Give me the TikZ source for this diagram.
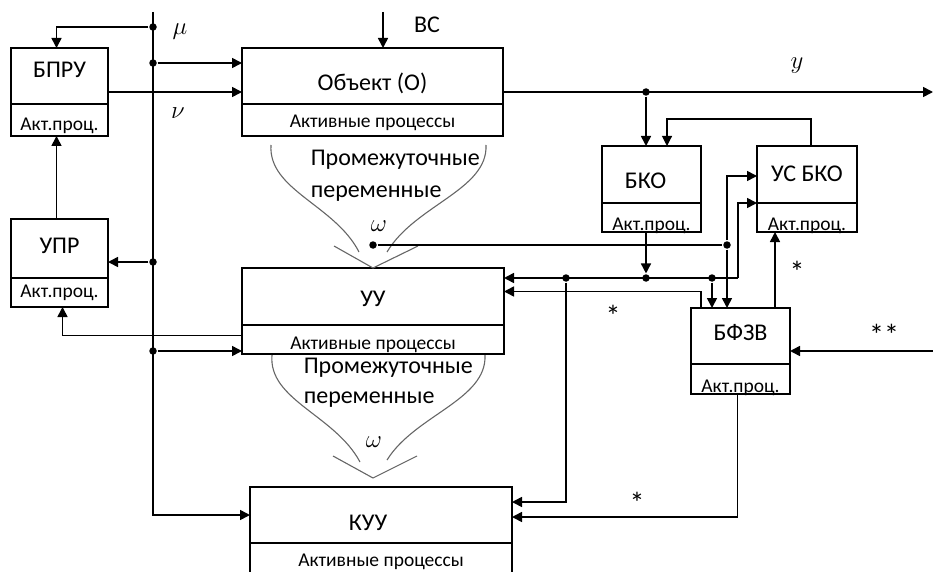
\documentclass[tikz,border=0pt]{standalone}
\usepackage{fontspec}
\setmainfont{Carlito}
\usetikzlibrary{arrows.meta, positioning, calc}

\begin{document}
\begin{tikzpicture}[
    x=1pt, y=-1pt,
    line width=1.6pt,
    every node/.style = {font=\fontsize{24}{28}\selectfont},
    blk/.style    = {draw, rectangle, inner sep=0pt, outer sep=0pt,
                     minimum height=56pt},
    proc/.style   = {draw, rectangle, inner sep=0pt, outer sep=0pt,
                     minimum height=30pt, font=\fontsize{19.5}{23}\selectfont},
    arr/.style    = {-{Triangle[length=10pt, width=10pt]}},
    jdot/.style   = {circle, fill, inner sep=0pt, minimum size=7.5pt},
    funnel/.style = {draw=black!60, line width=1.1pt},
    midtxt/.style = {anchor=base west, inner sep=0pt},
    star/.style   = {font=\fontsize{30}{34}\selectfont, inner sep=0pt}
  ]
  \useasboundingbox (0,0) rectangle (933,572);

  % left column
  \node[blk,  minimum width=97pt, text height=16pt, text depth=12pt,
        anchor=north west] (bpru) at (11,48) {БПРУ};
  \node[proc, minimum width=97pt, minimum height=32pt, text height=22pt,
        text depth=0pt, below=0pt of bpru] (bpruP) {Акт.проц.};
  \node[blk,  minimum width=97pt, minimum height=59pt, text height=16pt,
        text depth=7pt, anchor=north west] (upr) at (11,219) {УПР};
  \node[proc, minimum width=97pt, minimum height=29pt, below=0pt of upr] (uprP) {Акт.проц.};

  % centre column
  \node[blk,  minimum width=261pt, text height=30pt, text depth=0pt,
        anchor=north west] (obj) at (242,48) {Объект (О)};
  \node[proc, minimum width=261pt, minimum height=32pt, text height=16pt,
        text depth=0pt, below=0pt of obj] (objP) {Активные процессы};
  \node[blk,  minimum width=262pt, minimum height=57pt, text height=19pt,
        text depth=0pt, anchor=north west] (uu) at (242,268) {УУ};
  \node[proc, minimum width=262pt, minimum height=29pt, text height=20pt,
        text depth=0pt, below=0pt of uu] (uuP) {Активные процессы};
  \node[blk,  minimum width=262pt, text height=30pt, text depth=0pt,
        anchor=north west] (kuu) at (250,487) {\makebox[0pt]{\hspace*{-26pt}КУУ}};
  \node[proc, minimum width=262pt, minimum height=48pt, text height=14pt,
        text depth=16pt, below=0pt of kuu] (kuuP) {Активные процессы};

  % right column
  \node[blk,  minimum width=99pt, minimum height=57pt, text height=27pt,
        text depth=0pt, anchor=north west] (bko) at (602,146)
        {\makebox[0pt]{\hspace*{-12pt}БКО}};
  \node[proc, minimum width=99pt, minimum height=29pt, text height=26pt,
        text depth=0pt, below=0pt of bko] (bkoP) {Акт.проц.};
  \node[blk,  minimum width=100pt, minimum height=57pt, text height=15pt,
        text depth=0pt, anchor=north west] (usbko) at (757,146) {УС БКО};
  \node[proc, minimum width=100pt, minimum height=29pt, text height=26pt,
        text depth=0pt, below=0pt of usbko] (usbkoP) {Акт.проц.};
  \node[blk,  minimum width=99pt, text height=16pt, text depth=8pt,
        anchor=north west] (bfzv) at (691,308) {БФЗВ};
  \node[proc, minimum width=99pt, minimum height=30pt, text height=26pt,
        text depth=0pt, below=0pt of bfzv] (bfzvP) {Акт.проц.};

  % intermediate variables
  \draw[funnel] (271,145) .. controls (268,190) and (335,205) .. (359,252);
  \draw[funnel] (486,145) .. controls (488,190) and (415,205) .. (387,252);
  \draw[funnel] (334,246) -- (uu.north) -- (418,246);
  \node[midtxt] (mid1a) at (310,166) {Промежуточные};
  \node[midtxt] (mid1b) at (310,197) {переменные};
  \node (w1) at (379,226) {$\omega$};

  \coordinate (apex2) at (373,478);
  \draw[funnel] (272,355) .. controls (268,400) and (335,415) .. (360,462);
  \draw[funnel] (485,355) .. controls (487,400) and (415,415) .. (387,460);
  \draw[funnel] (333,456) -- (apex2) -- (417,456);
  \node[midtxt] (mid2a) at (303,373) {Промежуточные};
  \node[midtxt] (mid2b) at (303,403) {переменные};
  \node (w2) at (374,442) {$\omega$};

  % mu line
  \coordinate (muTop) at (153,12);
  \node[jdot] (muA) at (153,27) {};
  \node[jdot] (muB) at (153,63) {};
  \node[jdot] (muC) at (153,262) {};
  \node[jdot] (muD) at (153,351) {};
  \node (mu) at (180,32) {$\mu$};
  \node (nu) at (178,113) {$\nu$};

  \draw[arr] (muTop) |- (kuu.west);
  \draw[arr] (muA) -| ([xshift=-3pt]bpru.north);
  \draw[arr] (muB) -- (muB -| obj.west);
  \draw[arr] ([yshift=-16pt]bpru.east) -- ([yshift=-16pt]obj.west);
  \draw[arr] ([xshift=-3pt]upr.north) -- ([xshift=-3pt]bpruP.south);
  \draw[arr] (muC) -- (muC -| upr.east);
  \draw[arr] ([yshift=4pt]uuP.west) -| ([xshift=3pt]uprP.south);
  \draw[arr] (muD) -- (muD -| uu.west);

  % disturbance and output
  \coordinate (vsTop) at (383,12);
  \draw[arr] (vsTop) -- (vsTop |- obj.north);
  \node (vs) at (427,25) {ВС};

  \coordinate (yEnd) at (933,92);
  \node[jdot] (yJ) at (646,92) {};
  \draw[arr] ([yshift=-16pt]obj.east) -- (yEnd);
  \draw[arr] (yJ) -- (yJ |- bko.north);
  \node (yout) at (797,66) {$y$};

  \coordinate (fbC) at (667,119);
  \draw[arr, line width=1.1pt] ([xshift=4pt]usbko.north) |- (fbC) -- (fbC |- bko.north);

  % omega line
  \node[jdot] (wJ) at (373,245) {};
  \node[jdot] (wR) at (727,245) {};
  \draw[line width=1.1pt] (wJ) -- (wR);
  \draw[arr] (wR) |- ([yshift=-1.5pt]usbko.west);
  \draw[arr] (wR) -- (wR |- bfzv.north);

  % bus from BKO
  \node[jdot] (bJ1) at (566,278) {};
  \node[jdot] (bJ2) at (646,278) {};
  \node[jdot] (bJ3) at (712,278) {};
  \coordinate (bR) at (738,278);
  \draw[arr] (bJ2 |- bkoP.south) -- (bJ2);
  \draw[arr] (bR) -- (bR -| uu.east);
  \draw[arr] (bR) |- (usbko.south west);
  \draw[arr] (bJ3) -- (bJ3 |- bfzv.north);
  \draw[arr] (bJ1) |- ([yshift=13pt]kuu.east);

  % BFZV links
  \coordinate (bfzvL) at ([xshift=10pt]bfzv.north west);
  \coordinate (bfzvR) at ([xshift=-15pt]bfzv.north east);
  \coordinate (extIn) at (933,351);
  \draw[arr] (bfzvL) |- ([yshift=5pt]uu.east);
  \draw[arr] (bfzvR) -- (bfzvR |- usbkoP.south);
  \draw[arr] (extIn) -- (extIn -| bfzv.east);
  \draw[arr] ([xshift=-3pt]bfzvP.south) |- ([yshift=-2pt]kuu.east);

  \node[star] (s1) at (613,316) {*};
  \node[star] (s2) at (797,272) {*};
  \node[star] (s3) at (637,503) {*};
  \node[star] (s4) at (884,335) {**};
\end{tikzpicture}
\end{document}
